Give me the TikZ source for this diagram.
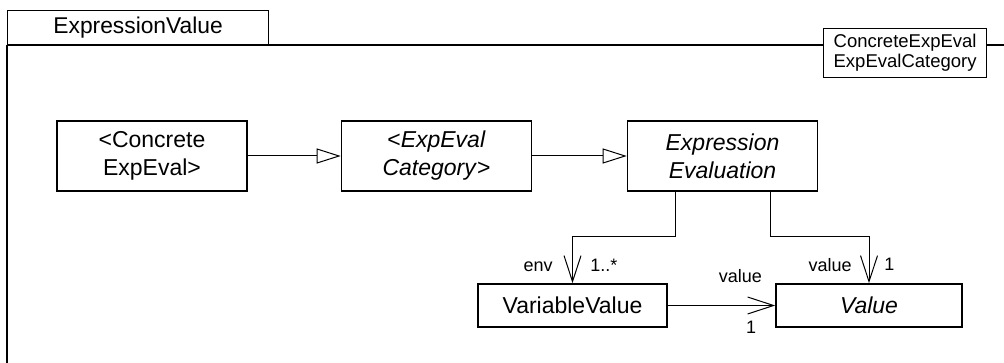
\documentclass[tikz,border=0pt]{standalone}
\usepackage{fontspec}
\setmainfont{Liberation Sans}
\usetikzlibrary{arrows.meta}
\tikzset{
  cls/.style={draw, line width=0.8pt, fill=white, align=center, inner sep=0pt,
    minimum width=95pt, minimum height=35pt, font=\fontsize{11.5}{14}\selectfont},
  lbl/.style={inner sep=0pt, font=\fontsize{9}{10}\selectfont},
  gen/.style={line width=0.5pt, -{Triangle[open, length=12pt, width=7.5pt]}},
  assoc/.style={line width=0.5pt, -{Straight Barb[length=13pt, width=8.5pt]}}
}
\begin{document}
\begin{tikzpicture}[x=0.5pt, y=-0.5pt, line join=miter]
			\clip (0,0) rectangle (1004,363);
			% package frame
			\node[draw, line width=0.6pt, anchor=north west, minimum width=130.5pt, minimum height=17pt,
			  inner sep=0pt, font=\fontsize{11.4}{13}\selectfont] (pkgtab) at (7,10) {ExpressionValue};
			\draw[line width=0.8pt] (pkgtab.south west) -- (pkgtab.south west |- 0,370);
			\draw[line width=0.8pt] (pkgtab.south west) -- (pkgtab.south west -| 1010,0);
			\node[draw, line width=0.6pt, fill=white, anchor=north west, align=left, inner sep=0pt,
			  minimum width=81.5pt, minimum height=24.5pt, font=\fontsize{9.25}{10}\selectfont]
			  (deps) at (823,28) {ConcreteExpEval\\ExpEvalCategory};
			% classes
			\node[cls] (cee) at (152,156) {<Concrete\\ExpEval>};
			\node[cls] (cat) at (436.5,156) {<\textit{ExpEval}\\\textit{Category}>};
			\node[cls] (ee) at (722.5,156) {\textit{Expression}\\\textit{Evaluation}};
			\node[cls, minimum width=94.5pt, minimum height=21.5pt] (vv) at (572.5,305.5) {VariableValue};
			\node[cls, minimum width=93pt, minimum height=21.5pt] (val) at (869,305.5) {\textit{Value}};
			% generalizations
			\draw[gen] (cee) -- (cat);
			\draw[gen] (cat) -- (ee);
			% associations
			\draw[assoc] ([shift={(-47.5,0)}]ee.south) -- ++(0,45) -| (vv.north);
			\draw[assoc] ([shift={(47.5,0)}]ee.south) -- ++(0,45) -| (val.north);
			\draw[assoc] (vv) -- (val);
			% end labels
			\node[lbl, anchor=base east] (envname) at ([shift={(-19.5,-12)}]vv.north) {env};
			\node[lbl, anchor=base west] (envmult) at ([shift={(17.5,-12)}]vv.north) {1..*};
			\node[lbl, anchor=base east] (valname) at ([shift={(-17,-12)}]val.north) {value};
			\node[lbl, anchor=base west] (valmult) at ([shift={(15,-13)}]val.north) {1};
			\node[lbl, anchor=base east] (vvname) at ([shift={(-13,-23)}]val.west) {value};
			\node[lbl, anchor=base] (vvmult) at ([shift={(-24,28)}]val.west) {1};
		\end{tikzpicture}
\end{document}
